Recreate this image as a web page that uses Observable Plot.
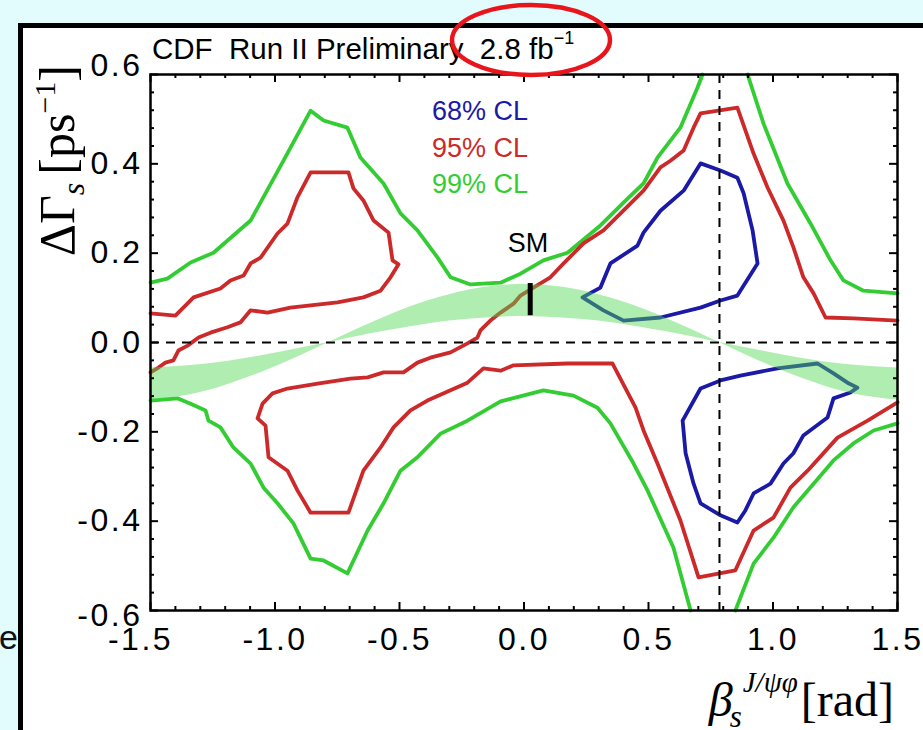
<!DOCTYPE html>
<html><head><meta charset="utf-8">
<script src="https://cdn.jsdelivr.net/npm/d3@7"></script>
<script src="https://cdn.jsdelivr.net/npm/@observablehq/plot@0.6"></script>
<style>
html,body{margin:0;padding:0;width:923px;height:730px;overflow:hidden;background:#e2fbfd;}
#panel{position:absolute;left:18px;top:23px;width:1000px;height:1000px;border:5px solid #000;background:#fff;}
#chart{position:absolute;left:0;top:0;}
</style></head><body>
<div id="panel"></div><div id="chart"></div>
<script>
// ---- data: [beta_s (rad), DeltaGamma_s (ps^-1)] ----
const green99UpperLeft = [[-1.5,0.134],[-1.432,0.143],[-1.339,0.179],[-1.247,0.201],[-1.098,0.273],[-0.966,0.407],[-0.857,0.519],[-0.805,0.497],[-0.709,0.481],[-0.657,0.414],[-0.564,0.356],[-0.496,0.289],[-0.428,0.251],[-0.347,0.190],[-0.295,0.146],[-0.215,0.130],[-0.094,0.134],[-0.014,0.154],[0.078,0.184],[0.175,0.201],[0.307,0.262],[0.416,0.322],[0.480,0.356],[0.536,0.414],[0.628,0.481],[0.697,0.571],[0.717,0.600]];
const green99UpperRight = [[0.898,0.600],[0.962,0.490],[1.058,0.356],[1.151,0.266],[1.231,0.184],[1.283,0.139],[1.363,0.116],[1.5,0.110]];
const green99LowerLeft = [[-1.5,-0.130],[-1.392,-0.125],[-1.339,-0.137],[-1.279,-0.152],[-1.267,-0.175],[-1.219,-0.190],[-1.167,-0.235],[-1.098,-0.271],[-1.046,-0.325],[-0.990,-0.360],[-0.926,-0.405],[-0.857,-0.484],[-0.805,-0.488],[-0.709,-0.517],[-0.628,-0.421],[-0.564,-0.360],[-0.496,-0.287],[-0.428,-0.257],[-0.335,-0.204],[-0.227,-0.175],[-0.094,-0.132],[0.078,-0.107],[0.199,-0.119],[0.295,-0.146],[0.347,-0.181],[0.440,-0.271],[0.496,-0.331],[0.600,-0.459],[0.669,-0.600]];
const green99LowerRight = [[0.849,-0.600],[0.922,-0.495],[1.002,-0.437],[1.082,-0.369],[1.163,-0.316],[1.243,-0.264],[1.323,-0.226],[1.404,-0.197],[1.5,-0.181]];
const red95Left = [[-1.5,0.065],[-1.400,0.060],[-1.327,0.101],[-1.219,0.121],[-1.179,0.139],[-1.126,0.150],[-1.098,0.177],[-1.058,0.190],[-0.990,0.244],[-0.950,0.266],[-0.910,0.325],[-0.857,0.381],[-0.705,0.381],[-0.685,0.345],[-0.645,0.318],[-0.604,0.273],[-0.544,0.246],[-0.528,0.184],[-0.504,0.175],[-0.536,0.146],[-0.576,0.116],[-0.645,0.101],[-0.749,0.090],[-0.857,0.083],[-0.938,0.078],[-1.030,0.067],[-1.098,0.072],[-1.139,0.045],[-1.191,0.034],[-1.259,0.022],[-1.307,0.011],[-1.351,-0.007],[-1.388,-0.018],[-1.408,-0.040],[-1.440,-0.045],[-1.468,-0.056],[-1.5,-0.067]];
const red95Main = [[1.5,0.049],[1.323,0.054],[1.211,0.056],[1.163,0.110],[1.122,0.146],[1.082,0.213],[1.042,0.273],[0.978,0.347],[0.922,0.423],[0.857,0.526],[0.709,0.513],[0.681,0.481],[0.641,0.430],[0.588,0.407],[0.548,0.392],[0.480,0.340],[0.388,0.289],[0.319,0.251],[0.239,0.222],[0.159,0.177],[0.106,0.146],[0.038,0.123],[-0.014,0.105],[-0.042,0.087],[-0.094,0.067],[-0.135,0.049],[-0.175,0.027],[-0.187,0.011],[-0.227,-0.002],[-0.295,-0.022],[-0.376,-0.034],[-0.428,-0.045],[-0.484,-0.067],[-0.564,-0.067],[-0.628,-0.078],[-0.697,-0.081],[-0.829,-0.092],[-0.950,-0.103],[-1.010,-0.114],[-1.050,-0.137],[-1.070,-0.170],[-1.038,-0.186],[-1.026,-0.257],[-0.950,-0.287],[-0.910,-0.331],[-0.857,-0.381],[-0.705,-0.381],[-0.645,-0.287],[-0.576,-0.235],[-0.524,-0.190],[-0.456,-0.152],[-0.388,-0.130],[-0.295,-0.107],[-0.227,-0.090],[-0.163,-0.058],[-0.094,-0.063],[-0.042,-0.051],[0.175,-0.047],[0.355,-0.047],[0.448,-0.146],[0.480,-0.197],[0.536,-0.271],[0.628,-0.398],[0.701,-0.526],[0.849,-0.510],[0.922,-0.421],[1.002,-0.392],[1.070,-0.325],[1.139,-0.287],[1.259,-0.213],[1.380,-0.175],[1.5,-0.134]];
const blue68Upper = [[0.235,0.101],[0.307,0.123],[0.347,0.177],[0.456,0.217],[0.480,0.246],[0.548,0.295],[0.641,0.340],[0.709,0.401],[0.789,0.385],[0.857,0.369],[0.882,0.334],[0.918,0.251],[0.938,0.177],[0.857,0.105],[0.789,0.094],[0.709,0.078],[0.548,0.056],[0.400,0.049],[0.319,0.072],[0.235,0.101]];
const blue68Lower = [[0.637,-0.175],[0.709,-0.103],[0.789,-0.085],[0.869,-0.074],[1.018,-0.058],[1.179,-0.047],[1.243,-0.069],[1.299,-0.090],[1.339,-0.101],[1.311,-0.112],[1.243,-0.125],[1.219,-0.168],[1.122,-0.208],[1.082,-0.248],[1.042,-0.271],[0.990,-0.316],[0.922,-0.338],[0.889,-0.376],[0.857,-0.403],[0.789,-0.387],[0.709,-0.360],[0.681,-0.316],[0.649,-0.248],[0.637,-0.175]];
// theory band
const bandBeta = [-1.5,-1.35,-1.2,-1.05,-0.9,-0.75,-0.6,-0.45,-0.3,-0.15,0,0.15,0.3,0.45,0.6,0.75,0.9,1.05,1.2,1.35,1.5];
const bandHi   = [-0.129,-0.118,-0.096,-0.066,-0.030,0.009,0.047,0.081,0.107,0.124,0.130,0.124,0.107,0.081,0.047,0.009,-0.030,-0.066,-0.096,-0.118,-0.129];
const bandLo   = [-0.057,-0.052,-0.043,-0.029,-0.013,0.004,0.021,0.036,0.048,0.055,0.058,0.055,0.048,0.036,0.021,0.004,-0.013,-0.029,-0.043,-0.052,-0.057];
// Standard Model point
const smBeta = [0.025];
const smLow = [0.060];
const smHigh = [0.132];
const refBeta = [0.785];
// ticks
const xTicks = [-1.5,-1.0,-0.5,0.0,0.5,1.0,1.5];
const xTickLabels = ["-1.5","-1.0","-0.5","0.0","0.5","1.0","1.5"];
const xMinor = [-1.4,-1.3,-1.2,-1.1,-0.9,-0.8,-0.7,-0.6,-0.4,-0.3,-0.2,-0.1,0.1,0.2,0.3,0.4,0.6,0.7,0.8,0.9,1.1,1.2,1.3,1.4];
const yTicks = [-0.6,-0.4,-0.2,0.0,0.2,0.4,0.6];
const yTickLabels = ["-0.6","-0.4","-0.2","0.0","0.2","0.4","0.6"];
const yMinor = [-0.56,-0.52,-0.48,-0.44,-0.36,-0.32,-0.28,-0.24,-0.16,-0.12,-0.08,-0.04,0.04,0.08,0.12,0.16,0.24,0.28,0.32,0.36,0.44,0.48,0.52,0.56];
const legendLabels = ["68% CL","95% CL","99% CL"];

// ---- styling ----
const GREEN = "#33cd33", RED = "#cc2a2a", BLUE = "#1a1aa6";
const W=923,H=730,mL=150,mR=26,mT=74,mB=120;
const FW=W-mL-mR, FH=H-mT-mB;
const pts = a => a.map(([b,g]) => ({b,g}));
const lo = c => ({x:"b", y:"g", stroke:c, strokeWidth:3.8, strokeLinejoin:"round", strokeLinecap:"round"});
const band = bandBeta.map((b,i) => ({b, lo:bandLo[i], hi:bandHi[i]}));
const sm = smBeta.map((b,i)=>({b, lo:smLow[i], hi:smHigh[i]}));
const xl = xTicks.map((v,i)=>({v,t:xTickLabels[i]}));
const yl = yTicks.map((v,i)=>({v,t:yTickLabels[i]}));
const TF = "Liberation Sans, Arial, Helvetica, sans-serif";
const tk = {stroke:"#000", strokeWidth:2};

const plot = Plot.plot({
  width:W, height:H, marginLeft:mL, marginRight:mR, marginTop:mT, marginBottom:mB,
  style:{background:"transparent", overflow:"visible"},
  x:{domain:[-1.5,1.5], axis:null},
  y:{domain:[-0.6,0.6], axis:null},
  marks:[
    Plot.line(pts(green99UpperLeft), lo(GREEN)),
    Plot.line(pts(green99UpperRight), lo(GREEN)),
    Plot.line(pts(green99LowerLeft), lo(GREEN)),
    Plot.line(pts(green99LowerRight), lo(GREEN)),
    Plot.line(pts(red95Left), lo(RED)),
    Plot.line(pts(red95Main), lo(RED)),
    Plot.line(pts(blue68Upper), lo(BLUE)),
    Plot.line(pts(blue68Lower), lo(BLUE)),
    Plot.areaY(band, {x:"b", y1:"lo", y2:"hi", fill:"#4fd84f", fillOpacity:0.45, curve:"natural"}),
    Plot.ruleY([0], {stroke:"#000", strokeWidth:2, strokeDasharray:"9,7"}),
    Plot.ruleX(refBeta, {x:d=>d, stroke:"#000", strokeWidth:2, strokeDasharray:"9,7"}),
    Plot.ruleX(sm, {x:"b", y1:"lo", y2:"hi", stroke:"#000", strokeWidth:5}),
    // inward ticks on all four sides
    Plot.tickX(xTicks, {x:d=>d, insetTop:FH-8, ...tk}),
    Plot.tickX(xTicks, {x:d=>d, insetBottom:FH-8, ...tk}),
    Plot.tickX(xMinor, {x:d=>d, insetTop:FH-4, ...tk}),
    Plot.tickX(xMinor, {x:d=>d, insetBottom:FH-4, ...tk}),
    Plot.tickY(yTicks, {y:d=>d, insetRight:FW-8, ...tk}),
    Plot.tickY(yTicks, {y:d=>d, insetLeft:FW-8, ...tk}),
    Plot.tickY(yMinor, {y:d=>d, insetRight:FW-4, ...tk}),
    Plot.tickY(yMinor, {y:d=>d, insetLeft:FW-4, ...tk}),
    Plot.frame({stroke:"#000", strokeWidth:2.5}),
    // tick labels
    Plot.text(xl.slice(1), {x:"v", text:"t", frameAnchor:"bottom", lineAnchor:"top", dy:17, fontSize:32, fontFamily:TF, fill:"#000"}),
    Plot.text(xl.slice(0,1), {x:"v", text:"t", frameAnchor:"bottom", lineAnchor:"top", dy:17, dx:-10, fontSize:32, fontFamily:TF, fill:"#000"}),
    Plot.text(yl.slice(1,6), {y:"v", text:"t", frameAnchor:"left", textAnchor:"end", lineAnchor:"middle", dx:-8, fontSize:32, fontFamily:TF, fill:"#000"}),
    Plot.text(yl.slice(6), {y:"v", text:"t", frameAnchor:"left", textAnchor:"end", lineAnchor:"middle", dx:-8, dy:-9, fontSize:32, fontFamily:TF, fill:"#000"}),
    Plot.text(yl.slice(0,1), {y:"v", text:"t", frameAnchor:"left", textAnchor:"end", lineAnchor:"middle", dx:-8, dy:5, fontSize:32, fontFamily:TF, fill:"#000"})
  ]
});
document.getElementById("chart").appendChild(plot);
const svg = d3.select(plot);
svg.selectAll('g[aria-label="text"] text').attr("letter-spacing","2.5px");

// title
const t = svg.append("text").attr("x",152).attr("y",59).attr("text-anchor","start").attr("font-family",TF).attr("font-size",29.5).attr("fill","#000").style("white-space","pre");
t.append("tspan").text("CDF  Run II Preliminary  2.8 fb");
t.append("tspan").attr("font-size",18).attr("dy",-15).text("−1");
svg.append("ellipse").attr("cx",531).attr("cy",40).attr("rx",79).attr("ry",35).attr("fill","none").attr("stroke","#e8161c").attr("stroke-width",4.5);

// legend
const legCols = [BLUE, RED, GREEN];
const legY = [120,157,193];
legendLabels.forEach((s,i)=>{
  svg.append("text").attr("x",432).attr("y",legY[i]).attr("text-anchor","start").attr("font-family",TF).attr("font-size",27).attr("fill",legCols[i]).text(s);
});
// SM label
svg.append("text").attr("x",528).attr("y",252).attr("text-anchor","middle").attr("font-family",TF).attr("font-size",27).attr("fill","#000").text("SM");

// axis labels (serif, LaTeX-like)
const SF = "Liberation Serif, Times New Roman, serif";
const yt = svg.append("text").attr("transform","translate(74,65) rotate(-90)").attr("text-anchor","end").attr("font-family",SF).attr("font-size",50).attr("fill","#000");
yt.append("tspan").text("ΔΓ");
yt.append("tspan").attr("font-style","italic").attr("font-size",32).attr("dy",10).text("s");
yt.append("tspan").attr("dy",-10).attr("dx",8).text("[ps");
yt.append("tspan").attr("font-size",30).attr("dy",-19).text("−1");
yt.append("tspan").attr("dy",19).text("]");

const xt = svg.append("text").attr("x",894).attr("y",716).attr("text-anchor","end").attr("font-family",SF).attr("font-size",48).attr("fill","#000");
xt.append("tspan").attr("font-style","italic").text("β");
xt.append("tspan").attr("font-style","italic").attr("font-size",31).attr("dy",11).attr("dx",-3).text("s");
xt.append("tspan").attr("font-style","italic").attr("font-size",29).attr("dy",-35).attr("dx",1).text("J/ψφ");
xt.append("tspan").attr("dy",24).attr("dx",3).text("[rad]");

// stray glyph from the underlying slide
svg.append("text").attr("x",-1).attr("y",649).attr("text-anchor","start").attr("font-family",TF).attr("font-size",34).attr("fill","#111").text("e");
</script></body></html>
